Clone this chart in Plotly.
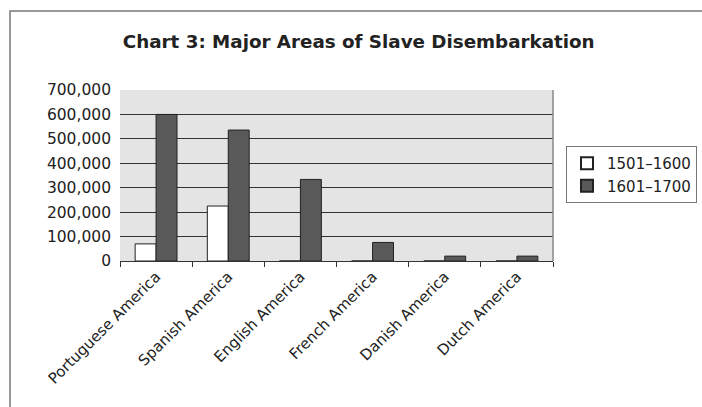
import plotly.graph_objects as go

categories = ["Portuguese America", "Spanish America", "English America",
              "French America", "Danish America", "Dutch America"]
series_names = ["1501–1600", "1601–1700"]
values_1501_1600 = [70000, 225000, 0, 0, 0, 0]
values_1601_1700 = [600000, 536000, 334000, 76000, 20000, 20000]
y_tick_values = [0, 100000, 200000, 300000, 400000, 500000, 600000, 700000]
y_tick_labels = ["0", "100,000", "200,000", "300,000", "400,000", "500,000", "600,000", "700,000"]

W, H = 702, 407
L, R, T, B = 120, 553, 90, 261
MR = 4
PW = W - MR - L  # paper width in px

def px(xp):
    return (xp - L) / PW

fig = go.Figure()
fig.add_trace(go.Bar(x=categories, y=values_1501_1600, name=series_names[0],
                     marker=dict(color="white", line=dict(color="#222", width=1))))
fig.add_trace(go.Bar(x=categories, y=values_1601_1700, name=series_names[1],
                     marker=dict(color="#595959", line=dict(color="#222", width=1))))

font = "DejaVu Sans, sans-serif"
fig.update_layout(
    width=W, height=H,
    margin=dict(l=L, r=MR, t=T, b=H - B),
    paper_bgcolor="white", plot_bgcolor="#e4e4e4",
    barmode="group", bargap=0.42, bargroupgap=0,
    font=dict(family=font, size=15, color="#222"),
    title=dict(text="<b>Chart 3: Major Areas of Slave Disembarkation</b>",
               x=0.511, xanchor="center", y=1 - 42 / H, yanchor="middle",
               font=dict(size=18.3, color="#222", family=font)),
    legend=dict(x=px(566), xanchor="left", y=(B - 146) / (B - T), yanchor="top",
                bordercolor="#777", borderwidth=1, bgcolor="white",
                font=dict(size=15, color="#222"), itemsizing="constant",
                itemwidth=30, tracegroupgap=2),
    showlegend=True,
)
fig.update_xaxes(domain=[0, px(R)], showgrid=False, showline=True, linecolor="#333", linewidth=1,
                 ticks="outside", tickson="boundaries", ticklen=5, tickcolor="#333",
                 tickangle=-45, tickfont=dict(size=15, color="#222"))
fig.update_yaxes(range=[0, 700000], tickvals=y_tick_values, ticktext=y_tick_labels,
                 showgrid=True, gridcolor="#333", gridwidth=1.3, zeroline=False,
                 showline=False, ticks="", ticklabelstandoff=8,
                 tickfont=dict(size=15.5, color="#222"))

# right border of plot area
fig.add_shape(type="line", xref="x domain", yref="y domain", x0=1, x1=1, y0=0, y1=1,
              line=dict(color="#888", width=1.5))
# outer frame of the picture (top and left edges visible)
fig.add_shape(type="rect", xref="paper", yref="paper",
              x0=px(10), x1=2.0, y0=-2.0, y1=(B - 11) / (B - T),
              line=dict(color="#777", width=1.5), layer="below")

fig.write_html("out.html")
